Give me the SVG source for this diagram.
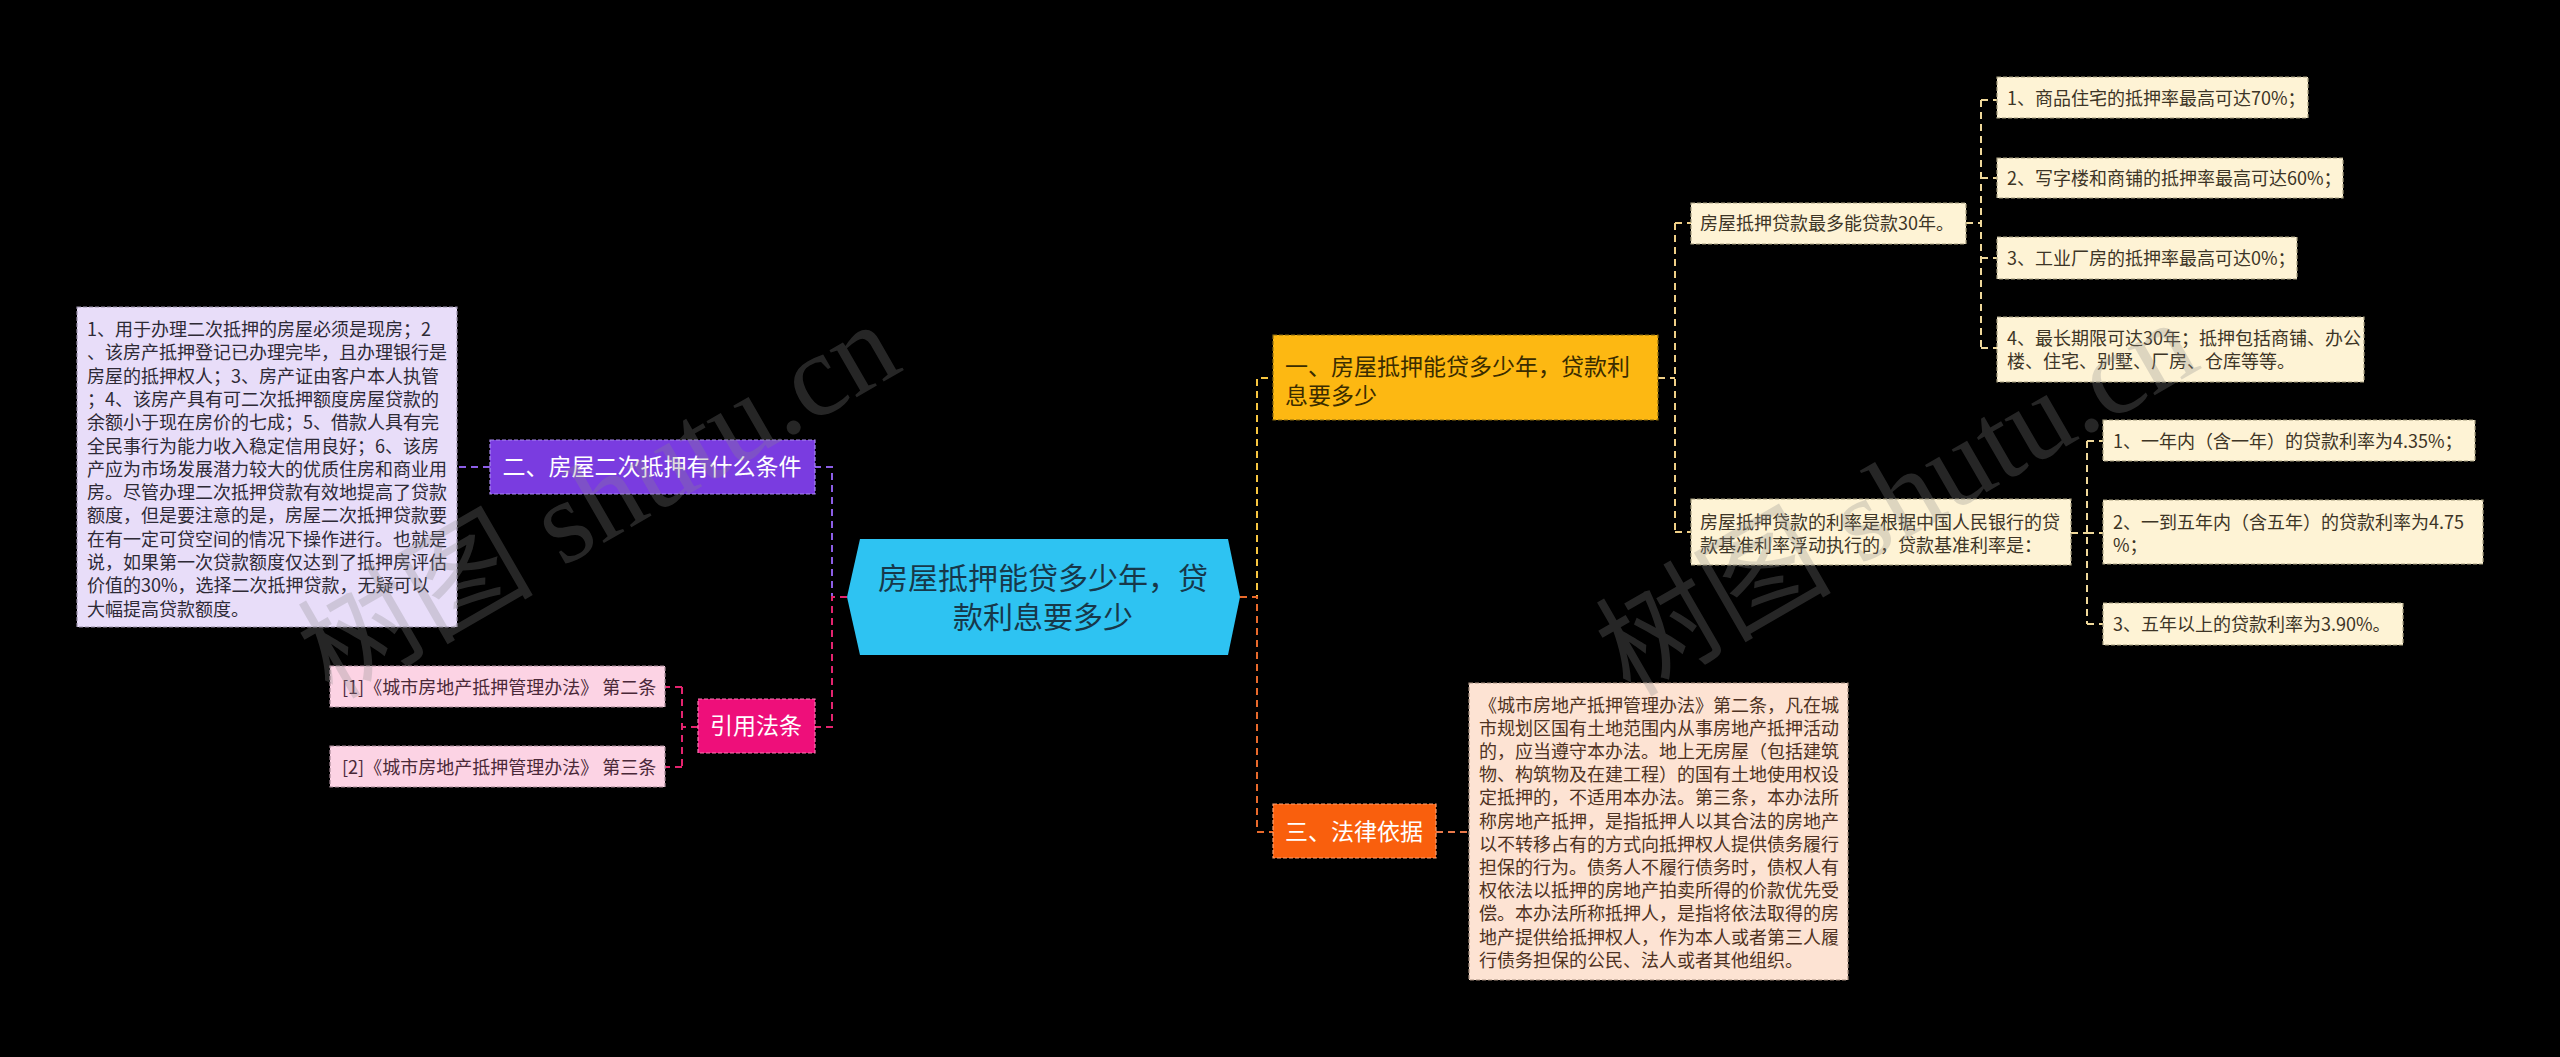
<svg xmlns="http://www.w3.org/2000/svg" width="2560" height="1057" viewBox="0 0 2560 1057">
<style>
text{font-family:"Noto Sans CJK SC","Noto Sans",sans-serif;}
.s{font-size:18px;}
.m{font-size:23px;}
.bx{stroke-width:1.2;stroke-dasharray:4 2;}
.c{fill:none;stroke-width:2;stroke-dasharray:7 5;}
.wm{font-family:"Liberation Serif","Noto Sans CJK SC",serif;font-size:118px;fill:#8a8a8a;opacity:0.28;}
</style>
<rect width="2560" height="1057" fill="#000"/>

<g id="connectors">
  <path class="c" stroke="#8c5ee6" d="M847,597 H832 V467 H815"/>
  <path class="c" stroke="#e4246f" d="M847,597 H832 V727 H815"/>
  <path class="c" stroke="#8c5ee6" d="M490,467 H457"/>
  <path class="c" stroke="#e4246f" d="M698,727 H682 M682,687 V767 M682,687 H665 M682,767 H665"/>
  <path class="c" stroke="#f7c640" d="M1240,597 H1257 V378 H1273"/>
  <path class="c" stroke="#e96a2c" d="M1240,597 H1257 V832 H1273"/>
  <path class="c" stroke="#e9794a" d="M1436,832 H1469"/>
  <path class="c" stroke="#efcf86" d="M1658,378 H1675 M1675,223 V532 M1675,223 H1691 M1675,532 H1691"/>
  <path class="c" stroke="#efd89a" d="M1966,223 H1981 M1981,100 V348 M1981,100 H1997 M1981,178 H1997 M1981,258 H1997 M1981,348 H1997"/>
  <path class="c" stroke="#efd89a" d="M2071,533 H2087 M2087,441 V624 M2087,441 H2103 M2087,533 H2103 M2087,624 H2103"/>
</g>

<g id="center">
  <polygon points="860,539 1228,539 1240,597 1228,655 860,655 847,597" fill="#2EC3F2"/>
  <text font-size="30" fill="#17384a" text-anchor="middle"><tspan x="1043" y="589">房屋抵押能贷多少年，贷</tspan><tspan x="1043" y="628">款利息要多少</tspan></text>
</g>

<g id="n-er">
  <rect class="bx" x="490" y="440" width="325" height="54" fill="#7A3CE0" stroke="#a98af0"/>
  <text class="m" fill="#fff" text-anchor="middle" x="652" y="475">二、房屋二次抵押有什么条件</text>
</g>

<g id="n-er-detail">
  <rect class="bx" x="77" y="307" width="380" height="320" fill="#E8DDF9" stroke="#9a90aa"/>
  <text class="s" fill="#2e2a36">
    <tspan x="87" y="336">1、用于办理二次抵押的房屋必须是现房；2</tspan>
    <tspan x="87" y="359.3">、该房产抵押登记已办理完毕，且办理银行是</tspan>
    <tspan x="87" y="382.6">房屋的抵押权人；3、房产证由客户本人执管</tspan>
    <tspan x="87" y="405.9">；4、该房产具有可二次抵押额度房屋贷款的</tspan>
    <tspan x="87" y="429.2">余额小于现在房价的七成；5、借款人具有完</tspan>
    <tspan x="87" y="452.5">全民事行为能力收入稳定信用良好；6、该房</tspan>
    <tspan x="87" y="475.8">产应为市场发展潜力较大的优质住房和商业用</tspan>
    <tspan x="87" y="499.1">房。尽管办理二次抵押贷款有效地提高了贷款</tspan>
    <tspan x="87" y="522.4">额度，但是要注意的是，房屋二次抵押贷款要</tspan>
    <tspan x="87" y="545.7">在有一定可贷空间的情况下操作进行。也就是</tspan>
    <tspan x="87" y="569">说，如果第一次贷款额度仅达到了抵押房评估</tspan>
    <tspan x="87" y="592.3">价值的30%，选择二次抵押贷款，无疑可以</tspan>
    <tspan x="87" y="615.6">大幅提高贷款额度。</tspan>
  </text>
</g>

<g id="n-yinyong">
  <rect class="bx" x="698" y="699" width="117" height="54" fill="#EE0F7A" stroke="#f77ab0"/>
  <text class="m" fill="#fff" text-anchor="middle" x="756" y="734">引用法条</text>
</g>

<g id="n-ref1">
  <rect class="bx" x="330" y="666" width="335" height="41" fill="#FCD3E4" stroke="#a88a98"/>
  <text class="s" fill="#4a2838" x="342" y="693.5">[1]《城市房地产抵押管理办法》 第二条</text>
</g>
<g id="n-ref2">
  <rect class="bx" x="330" y="746" width="335" height="41" fill="#FCD3E4" stroke="#a88a98"/>
  <text class="s" fill="#4a2838" x="342" y="773.5">[2]《城市房地产抵押管理办法》 第三条</text>
</g>

<g id="n-yi">
  <rect class="bx" x="1273" y="335" width="385" height="85" fill="#FDB812" stroke="#8a6a10"/>
  <text class="m" fill="#3a2c00"><tspan x="1285" y="375">一、房屋抵押能贷多少年，贷款利</tspan><tspan x="1285" y="404">息要多少</tspan></text>
</g>

<g id="n-30">
  <rect class="bx" x="1691" y="203" width="275" height="41" fill="#FEF3D5" stroke="#a8a080"/>
  <text class="s" fill="#3d3526" x="1700" y="229.5">房屋抵押贷款最多能贷款30年。</text>
</g>

<g id="n-lilv">
  <rect class="bx" x="1691" y="499" width="380" height="66" fill="#FEF3D5" stroke="#a8a080"/>
  <text class="s" fill="#3d3526"><tspan x="1700" y="528.5">房屋抵押贷款的利率是根据中国人民银行的贷</tspan><tspan x="1700" y="551.8">款基准利率浮动执行的，贷款基准利率是：</tspan></text>
</g>

<g id="n-a1">
  <rect class="bx" x="1997" y="77" width="311" height="41" fill="#FEF3D5" stroke="#a8a080"/>
  <text class="s" fill="#3d3526" x="2007" y="104.5">1、商品住宅的抵押率最高可达70%；</text>
</g>
<g id="n-a2">
  <rect class="bx" x="1997" y="158" width="346" height="40" fill="#FEF3D5" stroke="#a8a080"/>
  <text class="s" fill="#3d3526" x="2007" y="184.5">2、写字楼和商铺的抵押率最高可达60%；</text>
</g>
<g id="n-a3">
  <rect class="bx" x="1997" y="237" width="300" height="42" fill="#FEF3D5" stroke="#a8a080"/>
  <text class="s" fill="#3d3526" x="2007" y="264.5">3、工业厂房的抵押率最高可达0%；</text>
</g>
<g id="n-a4">
  <rect class="bx" x="1997" y="317" width="367" height="65" fill="#FEF3D5" stroke="#a8a080"/>
  <text class="s" fill="#3d3526"><tspan x="2007" y="344.5">4、最长期限可达30年；抵押包括商铺、办公</tspan><tspan x="2007" y="368">楼、住宅、别墅、厂房、仓库等等。</tspan></text>
</g>

<g id="n-b1">
  <rect class="bx" x="2103" y="420" width="372" height="41" fill="#FEF3D5" stroke="#a8a080"/>
  <text class="s" fill="#3d3526" x="2113" y="447.5">1、一年内（含一年）的贷款利率为4.35%；</text>
</g>
<g id="n-b2">
  <rect class="bx" x="2103" y="500" width="380" height="64" fill="#FEF3D5" stroke="#a8a080"/>
  <text class="s" fill="#3d3526"><tspan x="2113" y="528.5">2、一到五年内（含五年）的贷款利率为4.75</tspan><tspan x="2113" y="551.8">%；</tspan></text>
</g>
<g id="n-b3">
  <rect class="bx" x="2103" y="603" width="300" height="42" fill="#FEF3D5" stroke="#a8a080"/>
  <text class="s" fill="#3d3526" x="2113" y="630.5">3、五年以上的贷款利率为3.90%。</text>
</g>

<g id="n-san">
  <rect class="bx" x="1273" y="804" width="163" height="54" fill="#F95F0D" stroke="#fba070"/>
  <text class="m" fill="#fff" text-anchor="middle" x="1354" y="840">三、法律依据</text>
</g>

<g id="n-law">
  <rect class="bx" x="1469" y="683" width="379" height="297" fill="#FDE3D3" stroke="#a89080"/>
  <text class="s" fill="#4e3222">
    <tspan x="1479" y="711.5">《城市房地产抵押管理办法》第二条，凡在城</tspan>
    <tspan x="1479" y="734.7">市规划区国有土地范围内从事房地产抵押活动</tspan>
    <tspan x="1479" y="757.9">的，应当遵守本办法。地上无房屋（包括建筑</tspan>
    <tspan x="1479" y="781.1">物、构筑物及在建工程）的国有土地使用权设</tspan>
    <tspan x="1479" y="804.3">定抵押的，不适用本办法。第三条，本办法所</tspan>
    <tspan x="1479" y="827.5">称房地产抵押，是指抵押人以其合法的房地产</tspan>
    <tspan x="1479" y="850.7">以不转移占有的方式向抵押权人提供债务履行</tspan>
    <tspan x="1479" y="873.9">担保的行为。债务人不履行债务时，债权人有</tspan>
    <tspan x="1479" y="897.1">权依法以抵押的房地产拍卖所得的价款优先受</tspan>
    <tspan x="1479" y="920.3">偿。本办法所称抵押人，是指将依法取得的房</tspan>
    <tspan x="1479" y="943.5">地产提供给抵押权人，作为本人或者第三人履</tspan>
    <tspan x="1479" y="966.7">行债务担保的公民、法人或者其他组织。</tspan>
  </text>
</g>

<g id="watermarks">
  <text class="wm" x="332" y="700" transform="rotate(-30 332 700)">树图 shutu.cn</text>
  <text class="wm" x="1630" y="698" transform="rotate(-30 1630 698)">树图 shutu.cn</text>
</g>
</svg>
